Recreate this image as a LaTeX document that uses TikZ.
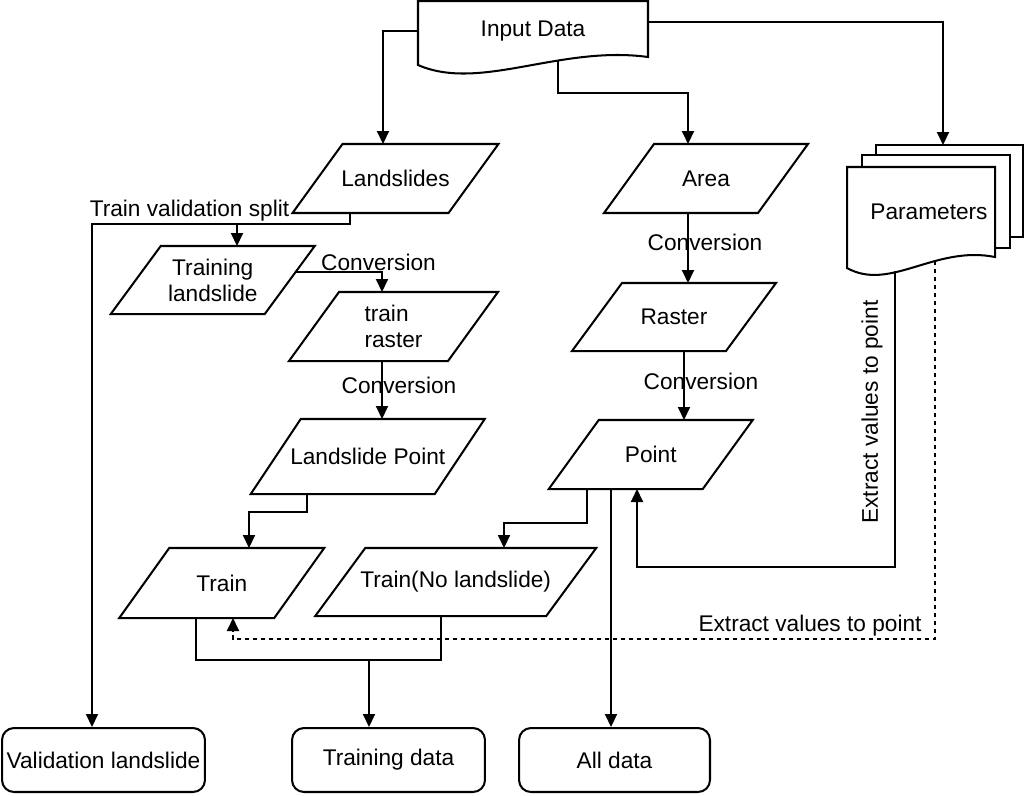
\documentclass[tikz,border=0pt]{standalone}
\usepackage{fontspec}
\setmainfont{Liberation Sans}
\usepackage{tikz}
\usetikzlibrary{arrows.meta}

\newcommand{\iobox}[5][]{%
\node[iotext,minimum width=#4,#1] (#2) at (#3) {#5};
\draw ([xshift=0.5cm]#2.north west) -- ([xshift=0.5cm]#2.north east) -- ([xshift=-0.5cm]#2.south east) -- ([xshift=-0.5cm]#2.south west) -- cycle;}

\begin{document}
\begin{tikzpicture}[x=0.02cm,y=-0.02cm,line width=1.15pt,font=\fontsize{12.9}{14.8}\selectfont,
  arr/.style={-{Triangle[length=0.26cm,width=0.24cm]}},
  iotext/.style={minimum height=1.34cm,inner sep=0pt,align=center},
  endbox/.style={draw,rounded corners=0.24cm,minimum height=1.28cm,inner sep=0pt},
  dots/.style={dash pattern=on 0.08cm off 0.08cm}]
\useasboundingbox (0,0) rectangle (1024,795);

\draw (418,1) -- (648,1) -- (648,57) .. controls (560,45) and (480,92) .. (418,65) -- cycle;
\node[minimum width=4.6cm,minimum height=1.12cm,inner sep=0pt] (input) at (533,31) {Input Data};
\coordinate (iw) at (558,61);

\draw[fill=white] (876,145) rectangle (1023,237);
\draw[fill=white] (862,155) rectangle (1010,248);
\draw[fill=white] (847,167) -- (995,167) -- (995,257) .. controls (935,245) and (890,292) .. (847,268) -- cycle;
\node (params) at (929,212) {Parameters};
\coordinate (ptop) at (943,145);
\coordinate (pa) at (895,271);
\coordinate (pb) at (935,261);

\iobox{landslides}{395.5,178.5}{3.08cm}{Landslides}
\iobox{area}{706,178.5}{3.04cm}{Area}
\iobox[minimum height=1.32cm]{trainls}{212.75,280}{3.04cm}{Training\\landslide}
\iobox[align=left]{trainraster}{393.5,326.5}{3.14cm}{train\\raster}
\iobox[minimum height=1.32cm]{raster}{674,317}{3.04cm}{Raster}
\iobox[minimum height=1.46cm]{lpoint}{367.75,456.5}{3.64cm}{Landslide Point}
\iobox{point}{650.75,454.5}{3.04cm}{Point}
\iobox[minimum height=1.36cm]{train}{221.75,583}{3.06cm}{Train}
\iobox[minimum height=1.32cm]{trainno}{455.75,582}{4.58cm}{Train(No landslide)}

\node[endbox,minimum width=4.06cm] (valid) at (103.5,760) {Validation landslide};
\node[endbox,minimum width=3.86cm] (tdata) at (388.5,760) {Training data};
\node[endbox,minimum width=3.82cm] (alldata) at (614.5,760) {All data};

\coordinate (fork) at (237,224);
\coordinate (tlright) at (294.5,272);
\coordinate (join) at (369,660);

\draw[arr] (input.west) -| (landslides.north -| 383,0);
\draw[arr] (iw) -- (558,93) -| (area.north -| 688,0);
\draw[arr] ([yshift=0.18cm]input.east) -| (ptop);
\draw[arr] (landslides.south -| 350,0) -- (350,224) -| (valid.north -| 92,0);
\draw[arr] (fork) -- (trainls.north -| 237,0);
\draw[arr] (tlright) -| (trainraster.north -| 382,0);
\draw[arr] (trainraster.south -| 382,0) -- (lpoint.north -| 382,0);
\draw[arr] (lpoint.south -| 307,0) -- (307,512) -| (train.north -| 249,0);
\draw[arr] (area.south -| 688,0) -- (raster.north -| 688,0);
\draw[arr] (raster.south -| 684,0) -- (point.north -| 684,0);
\draw[arr] (point.south -| 587,0) -- (587,523) -| (trainno.north -| 504,0);
\draw[arr] (point.south -| 611,0) -- (alldata.north -| 611,0);
\draw (train.south -| 196,0) -- (196,660) -| (trainno.south -| 441,0);
\draw[arr] (join) -- (tdata.north -| 369,0);
\draw[arr] (pa) -- (895,567) -| (point.south -| 637,0);
\draw[arr,dots] (pb) -- (935,639) -| (train.south -| 233,0);

\node (split) at (189.5,211) {Train validation split};
\node (conv1) at (378.5,262) {Conversion};
\node (conv2) at (399,385) {Conversion};
\node (conv3) at (705,242) {Conversion};
\node (conv4) at (701,381) {Conversion};
\node[rotate=90] (extract1) at (872,412) {Extract values to point};
\node (extract2) at (810,626) {Extract values to point};
\end{tikzpicture}
\end{document}
